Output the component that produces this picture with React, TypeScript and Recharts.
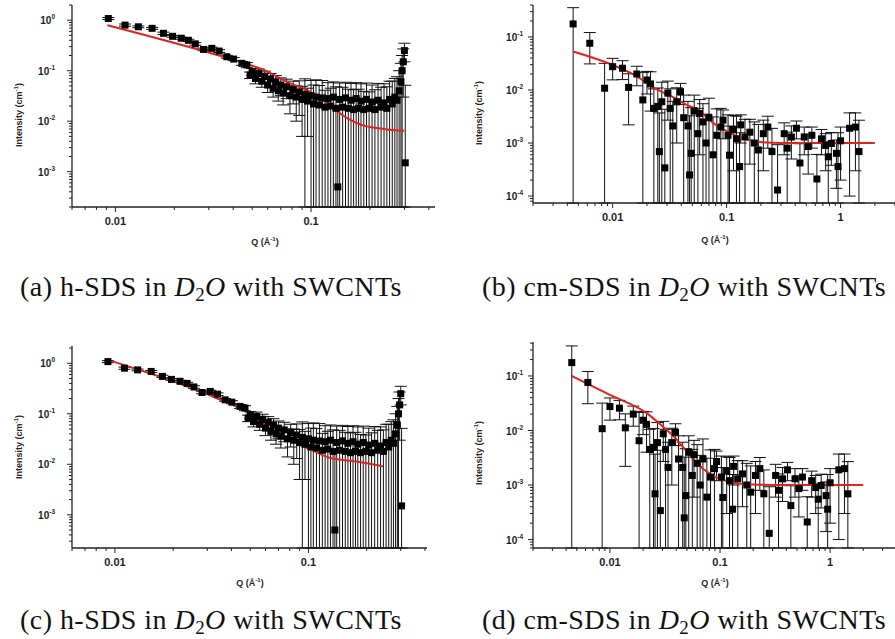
import React from 'react'
import { ComposedChart, Scatter, Line, XAxis, YAxis, ErrorBar } from 'recharts'

// h-SDS in D2O with SWCNTs (panels a and c share the same measured points)
const hQ = [
  0.0092, 0.0112, 0.0131, 0.0154, 0.0176, 0.0196, 0.0217, 0.0236, 0.0256, 0.0282, 0.0311, 0.0339, 0.0371, 0.0402, 0.0443, 0.047, 0.0488,
  0.05, 0.052, 0.054, 0.056, 0.058, 0.06, 0.062, 0.064, 0.066, 0.068, 0.07, 0.072, 0.075, 0.078, 0.081, 0.084, 0.087, 0.09, 0.093, 0.096,
  0.1, 0.103, 0.106, 0.11, 0.114, 0.118, 0.122, 0.126, 0.13, 0.134, 0.137, 0.14, 0.145, 0.15, 0.155, 0.16, 0.165, 0.17, 0.175, 0.18,
  0.186, 0.192, 0.198, 0.205, 0.212, 0.22, 0.228, 0.236, 0.244, 0.252, 0.26, 0.268, 0.275, 0.282, 0.288, 0.292, 0.296, 0.3, 0.303,
]
const hI = [
  1.08, 0.8, 0.74, 0.69, 0.55, 0.48, 0.44, 0.4, 0.34, 0.264, 0.277, 0.245, 0.189, 0.17, 0.14, 0.13, 0.082,
  0.095, 0.07, 0.088, 0.062, 0.078, 0.052, 0.068, 0.045, 0.06, 0.04, 0.052, 0.036, 0.048, 0.032, 0.042, 0.03, 0.038, 0.027, 0.034, 0.025,
  0.032, 0.022, 0.03, 0.021, 0.029, 0.019, 0.028, 0.02, 0.03, 0.018, 0.0005, 0.027, 0.019, 0.029, 0.018, 0.026, 0.017, 0.028, 0.018, 0.025,
  0.017, 0.027, 0.018, 0.024, 0.017, 0.026, 0.019, 0.023, 0.018, 0.027, 0.022, 0.03, 0.026, 0.04, 0.06, 0.1, 0.15, 0.25, 0.0015,
]
const hErr = [
  0.05, 0.04, 0.03, 0.03, 0.03, 0.02, 0.02, 0.02, 0.02, 0.015, 0.015, 0.015, 0.012, 0.012, 0.012, 0.015, 0.012,
  0.015, 0.015, 0.02, 0.015, 0.02, 0.015, 0.02, 0.015, 0.02, 0.015, 0.02, 0.015, 0.02, 0.018, 0.02, 0.02, 0.025, 0.022, 0.035, 0.02,
  0.032, 0.03, 0.036, 0.03, 0.035, 0.022, 0.03, 0.025, 0.03, 0.03, 0.02, 0.03, 0.028, 0.03, 0.025, 0.03, 0.025, 0.03, 0.025, 0.03,
  0.022, 0.03, 0.02, 0.028, 0.025, 0.03, 0.028, 0.032, 0.03, 0.035, 0.04, 0.04, 0.05, 0.06, 0.08, 0.1, 0.12, 0.1, 0.05,
]

// cm-SDS in D2O with SWCNTs (panels b and d share the same measured points)
const cmQ = [
  0.0045, 0.0063, 0.0085, 0.01, 0.0122, 0.0138, 0.0163, 0.0184, 0.02, 0.0215, 0.023, 0.0249, 0.0257, 0.027, 0.0287, 0.0305, 0.032,
  0.0337, 0.0365, 0.0394, 0.042, 0.0458, 0.0473, 0.0489, 0.052, 0.056, 0.058, 0.062, 0.066, 0.07, 0.076, 0.082, 0.089, 0.093,
  0.103, 0.106, 0.115, 0.122, 0.13, 0.133, 0.145, 0.16, 0.175, 0.19, 0.21, 0.23, 0.25, 0.28, 0.32, 0.34, 0.37, 0.41, 0.44, 0.48,
  0.52, 0.56, 0.62, 0.68, 0.74, 0.78, 0.83, 0.92, 0.95, 1.0, 1.2, 1.35, 1.45,
]
const cmI = [
  0.176, 0.076, 0.0108, 0.0275, 0.0257, 0.0112, 0.02, 0.0065, 0.0154, 0.013, 0.0045, 0.0049, 0.00069, 0.006, 0.00034, 0.0087, 0.0045,
  0.0021, 0.006, 0.0093, 0.003, 0.0021, 0.00025, 0.00064, 0.004, 0.0015, 0.0036, 0.0025, 0.001, 0.003, 0.0006, 0.0014, 0.002, 0.0027,
  0.0014, 0.00059, 0.0018, 0.0012, 0.00036, 0.0022, 0.0013, 0.0016, 0.001, 0.00074, 0.0015, 0.002, 0.00069, 0.00013, 0.0015, 0.0008,
  0.0013, 0.0019, 0.00042, 0.0013, 0.00086, 0.0014, 0.00021, 0.0012, 0.0009, 0.00055, 0.00098, 0.00064, 0.00036, 0.0011, 0.0019, 0.002, 0.00069,
]
const cmErr = [
  0.18, 0.045, 0.021, 0.012, 0.01, 0.009, 0.008, 0.015, 0.007, 0.009, 0.006, 0.006, 0.003, 0.008, 0.004, 0.006, 0.006,
  0.004, 0.005, 0.004, 0.005, 0.004, 0.003, 0.004, 0.004, 0.003, 0.003, 0.003, 0.0025, 0.004, 0.0025, 0.003, 0.0025, 0.0015,
  0.002, 0.0015, 0.0015, 0.002, 0.0012, 0.0012, 0.0015, 0.0012, 0.0015, 0.0015, 0.0012, 0.0012, 0.0012, 0.0008, 0.0009, 0.0008,
  0.0008, 0.0007, 0.00055, 0.0007, 0.0006, 0.0006, 0.0004, 0.0006, 0.0006, 0.0005, 0.0006, 0.0005, 0.0012, 0.0009, 0.0018, 0.0017, 0.002,
]

// fitted curves
const fitAQ = [0.0091, 0.0271, 0.0434, 0.06, 0.0752, 0.0985, 0.115, 0.129, 0.15, 0.171, 0.19, 0.216, 0.25, 0.3]
const fitAI = [0.797, 0.256, 0.15, 0.096, 0.06, 0.0385, 0.026, 0.0185, 0.012, 0.0092, 0.008, 0.0073, 0.0068, 0.0065]
const fitBQ = [0.0045, 0.01, 0.0155, 0.0232, 0.0332, 0.045, 0.056, 0.078, 0.102, 0.143, 0.2, 0.3, 0.5, 1.0, 2.0]
const fitBI = [0.053, 0.0296, 0.0192, 0.0108, 0.0075, 0.0052, 0.0042, 0.0023, 0.00164, 0.0012, 0.00104, 0.001, 0.001, 0.001, 0.001]
const fitCQ = [0.0091, 0.0325, 0.0464, 0.0638, 0.072, 0.091, 0.105, 0.13, 0.164, 0.2, 0.243]
const fitCI = [1.18, 0.215, 0.117, 0.051, 0.04, 0.0237, 0.019, 0.0133, 0.0118, 0.0105, 0.0091]
const fitDQ = [0.0045, 0.01, 0.0216, 0.03, 0.038, 0.048, 0.058, 0.072, 0.088, 0.134, 0.2, 0.4, 1.0, 2.0]
const fitDI = [0.1, 0.045, 0.0208, 0.012, 0.0078, 0.0045, 0.0029, 0.0019, 0.00145, 0.0011, 0.00102, 0.001, 0.001, 0.001]

// labelled ticks
const xLabelsH = [0.01, 0.1]
const xLabelsCm = [0.01, 0.1, 1]
const yLabelsH = [1, 0.1, 0.01, 0.001]
const yLabelsCm = [0.1, 0.01, 0.001, 0.0001]

const INK = '#1e1e2a'
const axisStyle = { stroke: '#222', strokeWidth: 1.3 }

type Pt = { q: number; I: number; err?: [number, number] }

// lower error bars that run past the axis stop at the axis (floor = bottom of the domain)
const toPoints = (q: number[], i: number[], e: number[], floor: number): Pt[] =>
  q.map((x, k) => ({ q: x, I: i[k], err: [Math.min(e[k], i[k] - floor), e[k]] }))
const toLine = (q: number[], i: number[]): Pt[] => q.map((x, k) => ({ q: x, I: i[k] }))

function logTicks(lo: number, hi: number) {
  const out: number[] = []
  for (let p = Math.floor(Math.log10(lo)); p <= Math.ceil(Math.log10(hi)); p++) {
    for (let m = 1; m < 10; m++) {
      const v = Number((m * Math.pow(10, p)).toPrecision(6))
      if (v >= lo && v <= hi) out.push(v)
    }
  }
  return out
}

const isMajor = (v: number, labels: number[]) => labels.some((l) => Math.abs(v / l - 1) < 1e-6)

const Square = (props: any) => {
  const { cx, cy } = props
  if (cx == null || cy == null) return null
  return <rect x={cx - 3.5} y={cy - 3.5} width={7} height={7} fill="#000" />
}

function YTick(props: any) {
  const { x, y, payload, labels, gap, showLabel } = props
  const v = payload.value
  const major = isMajor(v, labels)
  const len = major ? 5 : 3
  const exp = Math.round(Math.log10(v))
  return (
    <g>
      <line x1={x} y1={y} x2={x - len} y2={y} stroke="#222" strokeWidth={1} />
      {showLabel && major && (
        <text x={x - gap} y={y + 4} textAnchor="end" fontFamily="'Liberation Sans', Arial, sans-serif" fontWeight="bold" fontSize={10} fill={INK}>
          <tspan>10</tspan>
          <tspan dy={-5} fontSize={6.5}>{exp}</tspan>
        </text>
      )}
    </g>
  )
}

function XTick(props: any) {
  const { x, y, payload, labels, showLabel } = props
  const v = payload.value
  const major = isMajor(v, labels)
  const len = major ? 5 : 3
  return (
    <g>
      <line x1={x} y1={y} x2={x} y2={y + len} stroke="#222" strokeWidth={1} />
      {showLabel && major && (
        <text x={x} y={y + 18} textAnchor="middle" fontFamily="'Liberation Sans', Arial, sans-serif" fontWeight="bold" fontSize={11} fill={INK}>
          {String(v)}
        </text>
      )}
    </g>
  )
}

interface PanelProps {
  left: number
  top: number
  width: number
  height: number
  margin: { top: number; right: number; bottom: number; left: number }
  yAxisWidth: number
  xAxisHeight: number
  xDomain: [number, number]
  yDomain: [number, number]
  xLabels: number[]
  yLabels: number[]
  labelGap: number
  q: number[]
  I: number[]
  err: number[]
  fit: Pt[]
  xTitle: { x: number; y: number }
  yTitle: { x: number; y: number }
}

function Panel(p: PanelProps) {
  const xTicks = logTicks(p.xDomain[0], p.xDomain[1])
  const yTicks = logTicks(p.yDomain[0], p.yDomain[1])
  const points = toPoints(p.q, p.I, p.err, p.yDomain[0])
  const titleFont: React.CSSProperties = {
    position: 'absolute',
    fontFamily: "'Liberation Sans', Arial, sans-serif",
    fontWeight: 'bold',
    fontSize: 9,
    color: '#2a2218',
    whiteSpace: 'nowrap',
  }
  return (
    <div style={{ position: 'absolute', left: p.left, top: p.top, width: 895 - p.left, height: p.height + 12, overflow: 'hidden' }}>
      <ComposedChart width={p.width} height={p.height} margin={p.margin}>
        <XAxis
          dataKey="q"
          type="number"
          scale="log"
          domain={p.xDomain}
          allowDataOverflow
          ticks={xTicks}
          interval={0}
          tickSize={0}
          tickMargin={0}
          tickLine={false}
          height={p.xAxisHeight}
          axisLine={axisStyle}
          tick={(t: any) => <XTick {...t} labels={p.xLabels} showLabel />}
        />
        <XAxis
          xAxisId="top"
          orientation="top"
          type="number"
          scale="log"
          domain={p.xDomain}
          allowDataOverflow
          ticks={xTicks}
          interval={0}
          tickSize={0}
          tickMargin={0}
          tickLine={false}
          height={0}
          axisLine={axisStyle}
          tick={(t: any) => <XTick {...t} labels={p.xLabels} />}
        />
        <YAxis
          dataKey="I"
          type="number"
          scale="log"
          domain={p.yDomain}
          allowDataOverflow
          ticks={yTicks}
          interval={0}
          tickSize={0}
          tickMargin={0}
          tickLine={false}
          width={p.yAxisWidth}
          axisLine={axisStyle}
          tick={(t: any) => <YTick {...t} labels={p.yLabels} gap={p.labelGap} showLabel />}
        />
        <YAxis
          yAxisId="right"
          orientation="right"
          type="number"
          scale="log"
          domain={p.yDomain}
          allowDataOverflow
          ticks={yTicks}
          interval={0}
          tickSize={0}
          tickMargin={0}
          tickLine={false}
          width={0}
          axisLine={axisStyle}
          tick={(t: any) => <YTick {...t} labels={p.yLabels} gap={0} />}
        />
        <Scatter data={points} dataKey="I" shape={Square} isAnimationActive={false}>
          <ErrorBar dataKey="err" direction="y" width={6} stroke="#111" strokeWidth={1} />
        </Scatter>
        <Line data={p.fit} dataKey="I" type="monotone" stroke="#e5211b" strokeWidth={2} dot={false} isAnimationActive={false} />
      </ComposedChart>
      <div style={{ ...titleFont, left: p.xTitle.x, top: p.xTitle.y, transform: 'translate(-50%, -50%)' }}>
        Q (Å<sup style={{ fontSize: 6 }}>-1</sup>)
      </div>
      <div style={{ ...titleFont, left: p.yTitle.x, top: p.yTitle.y, transform: 'translate(-50%, -50%) rotate(-90deg)' }}>
        Intensity (cm<sup style={{ fontSize: 6 }}>-1</sup>)
      </div>
    </div>
  )
}

function Caption({ left, top, tag, name }: { left: number; top: number; tag: string; name: string }) {
  return (
    <div
      style={{
        position: 'absolute',
        left,
        top,
        height: 30,
        fontFamily: "'Liberation Serif', 'DejaVu Serif', serif",
        fontSize: 28,
        letterSpacing: 0.45,
        color: '#111',
        whiteSpace: 'nowrap',
        lineHeight: '30px',
      }}
    >
      ({tag}) {name} in <i>D</i>
      <span style={{ fontSize: 19, position: 'relative', top: 5 }}>2</span>
      <i>O</i> with SWCNTs
    </div>
  )
}

export default function App() {
  return (
    <div style={{ position: 'absolute', left: 0, top: 0, width: 895, height: 639, overflow: 'hidden', background: '#fff' }}>
      <Panel
        left={0}
        top={0}
        width={450}
        height={260}
        margin={{ top: 5, right: 15, bottom: 0, left: 0 }}
        yAxisWidth={72}
        xAxisHeight={53}
        xDomain={[0.006, 0.43]}
        yDomain={[2e-4, 2]}
        xLabels={xLabelsH}
        yLabels={yLabelsH}
        labelGap={17}
        q={hQ}
        I={hI}
        err={hErr}
        fit={toLine(fitAQ, fitAI)}
        xTitle={{ x: 265, y: 241 }}
        yTitle={{ x: 18, y: 115 }}
      />
      <Panel
        left={440}
        top={0}
        width={490}
        height={260}
        margin={{ top: 5, right: 15, bottom: 0, left: 0 }}
        yAxisWidth={93}
        xAxisHeight={57}
        xDomain={[0.002, 4.5]}
        yDomain={[7.4e-5, 0.4]}
        xLabels={xLabelsCm}
        yLabels={yLabelsCm}
        labelGap={10}
        q={cmQ}
        I={cmI}
        err={cmErr}
        fit={toLine(fitBQ, fitBI)}
        xTitle={{ x: 275, y: 239 }}
        yTitle={{ x: 38, y: 113 }}
      />
      <Panel
        left={0}
        top={320}
        width={450}
        height={260}
        margin={{ top: 26, right: 23, bottom: 0, left: 0 }}
        yAxisWidth={72}
        xAxisHeight={32}
        xDomain={[0.006, 0.41]}
        yDomain={[2.2e-4, 2.2]}
        xLabels={xLabelsH}
        yLabels={yLabelsH}
        labelGap={17}
        q={hQ}
        I={hI}
        err={hErr}
        fit={toLine(fitCQ, fitCI)}
        xTitle={{ x: 250, y: 262 }}
        yTitle={{ x: 18, y: 127 }}
      />
      <Panel
        left={440}
        top={320}
        width={470}
        height={260}
        margin={{ top: 22, right: 8, bottom: 0, left: 0 }}
        yAxisWidth={93}
        xAxisHeight={32}
        xDomain={[0.002, 4.5]}
        yDomain={[7e-5, 0.42]}
        xLabels={xLabelsCm}
        yLabels={yLabelsCm}
        labelGap={10}
        q={cmQ}
        I={cmI}
        err={cmErr}
        fit={toLine(fitDQ, fitDI)}
        xTitle={{ x: 275, y: 262 }}
        yTitle={{ x: 38, y: 133 }}
      />
      <Caption left={20} top={272} tag="a" name="h-SDS" />
      <Caption left={482} top={272} tag="b" name="cm-SDS" />
      <Caption left={20} top={605} tag="c" name="h-SDS" />
      <Caption left={482} top={605} tag="d" name="cm-SDS" />
    </div>
  )
}
